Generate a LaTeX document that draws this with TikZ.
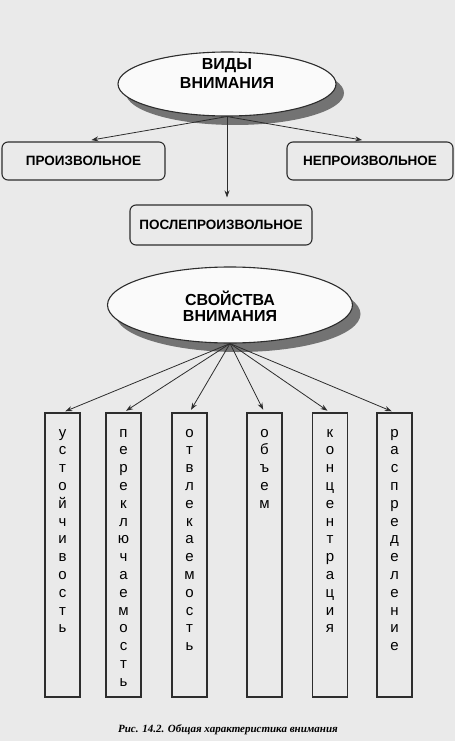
\documentclass[tikz,border=0pt]{standalone}
\usepackage{fontspec}
\setmainfont{Liberation Sans}
\newfontfamily\capfont{Liberation Serif}
\usetikzlibrary{shapes.geometric,arrows.meta,shadows}
\definecolor{paper}{RGB}{234,234,234}
\definecolor{ink}{RGB}{45,45,45}
\definecolor{shade}{RGB}{115,115,115}

\begin{document}
\begin{tikzpicture}[x=1pt, y=-1pt,
    oval/.style={ellipse, draw=ink, line width=1.1pt, fill=white!96!gray, inner sep=0,
        drop shadow={shadow xshift=8pt, shadow yshift=-9pt, fill=shade, opacity=1}},
    ovaltext/.style={align=center, inner sep=0, font=\fontsize{16}{18}\selectfont\bfseries},
    kind/.style={rectangle, rounded corners=6pt, draw=ink, line width=1.1pt, minimum height=38,
        font=\fontsize{13.5}{16}\selectfont\bfseries},
    prop/.style={rectangle, draw=ink, line width=1.1pt, minimum width=35, minimum height=284},
    letter/.style={anchor=base, inner sep=0, font=\fontsize{15}{17}\selectfont},
    arr/.style={-{Stealth[length=7pt,width=5pt]}, ink, thick}
]
    % page
    \fill[paper] (0,0) rectangle (455,741);
    \useasboundingbox (0,0) rectangle (455,741);

    % kinds of attention
    \node[oval, minimum width=218, minimum height=64] (vid) at (227,84) {};
    \node[ovaltext] (vid-label) at (227,73) {ВИДЫ\\[1pt]ВНИМАНИЯ};
    \node[kind, minimum width=163] (prois) at (83.5,161) {ПРОИЗВОЛЬНОЕ};
    \node[kind, minimum width=166] (neprois) at (370,161) {НЕПРОИЗВОЛЬНОЕ};
    \node[kind, minimum width=182, minimum height=40] (posle) at (221,225) {ПОСЛЕПРОИЗВОЛЬНОЕ};

    \draw[arr, shorten >=8pt] (vid.south) -- (prois.north);
    \draw[arr, shorten >=8pt] (vid.south) -- (neprois.north);
    \draw[arr, shorten >=7pt] (vid.south) -- (vid.south |- posle.north);

    % properties of attention
    \node[oval, minimum width=245, minimum height=76] (svo) at (230,305) {};
    \node[ovaltext] (svo-label) at (230,306) {СВОЙСТВА\\[-2pt]ВНИМАНИЯ};

    \foreach \nm/\xx/\word in {
        ust/62.5/{у,с,т,о,й,ч,и,в,о,с,т,ь},
        per/123.5/{п,е,р,е,к,л,ю,ч,а,е,м,о,с,т,ь},
        otv/189.5/{о,т,в,л,е,к,а,е,м,о,с,т,ь},
        obe/264.5/{о,б,ъ,е,м},
        kon/330/{к,о,н,ц,е,н,т,р,а,ц,и,я},
        ras/394.5/{р,а,с,п,р,е,д,е,л,е,н,и,е}}
    {
        \node[prop] (\nm) at (\xx,555) {};
        \draw[arr, shorten >=3pt] (svo.south) -- (\nm.north);
        \foreach \ch [count=\i] in \word
            \node[letter] (\nm-\i) at (\xx, 437 + 17.8*\i - 17.8) {\ch};
    }

    % caption
    \node[font=\capfont\fontsize{11}{13}\selectfont\bfseries\itshape] (cap) at (228,730)
        {Рис. 14.2. Общая характеристика внимания};
\end{tikzpicture}
\end{document}
